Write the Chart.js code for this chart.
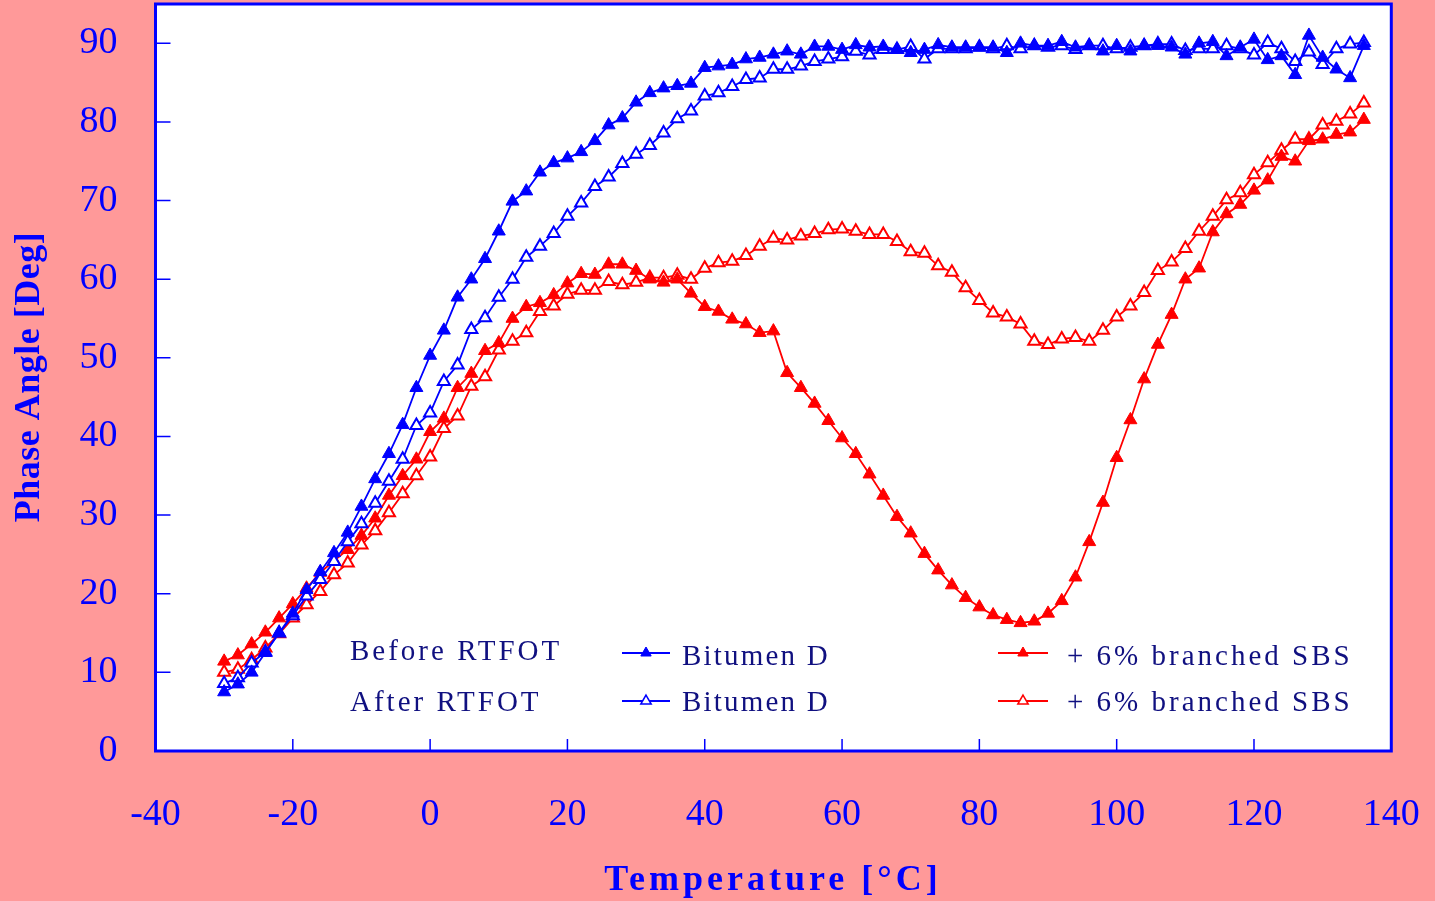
<!DOCTYPE html>
<html>
<head>
<meta charset="utf-8">
<title>Phase Angle vs Temperature</title>
<script src="https://cdn.jsdelivr.net/npm/chart.js@4/dist/chart.umd.min.js"></script>
<style>
  html, body { margin: 0; padding: 0; background: #ff9999; }
  #phaseChart { display: block; }
</style>
</head>
<body>
<canvas id="phaseChart" width="1435" height="901"></canvas>
<script>
// temperatures [°C]
const temps = [
  -30, -28, -26, -24, -22, -20, -18, -16, -14, -12,
  -10, -8, -6, -4, -2, 0, 2, 4, 6, 8,
  10, 12, 14, 16, 18, 20, 22, 24, 26, 28,
  30, 32, 34, 36, 38, 40, 42, 44, 46, 48,
  50, 52, 54, 56, 58, 60, 62, 64, 66, 68,
  70, 72, 74, 76, 78, 80, 82, 84, 86, 88,
  90, 92, 94, 96, 98, 100, 102, 104, 106, 108,
  110, 112, 114, 116, 118, 120, 122, 124, 126, 128,
  130, 132, 134, 136
];

// Bitumen D, before RTFOT
const bitBefore = [
  7.5, 8.5, 10.0, 12.5, 15.0, 17.5, 20.5, 22.8, 25.2, 27.8,
  31.1, 34.6, 37.8, 41.5, 46.2, 50.3, 53.5, 57.7, 60.0, 62.6,
  66.1, 69.9, 71.2, 73.6, 74.8, 75.4, 76.2, 77.6, 79.6, 80.5,
  82.5, 83.7, 84.3, 84.6, 84.9, 86.9, 87.1, 87.3, 88.0, 88.2,
  88.6, 89.0, 88.6, 89.6, 89.6, 89.2, 89.8, 89.5, 89.6, 89.2,
  88.8, 89.2, 89.8, 89.5, 89.5, 89.5, 89.5, 88.8, 90.0, 89.7,
  89.7, 90.2, 89.5, 89.7, 89.0, 89.7, 89.0, 89.7, 89.7, 89.5,
  88.6, 90.0, 90.2, 88.4, 89.5, 90.5, 87.9, 88.4, 86.0, 91.0,
  88.2, 86.7, 85.6, 89.7
];

// Bitumen D, after RTFOT
const bitAfter = [
  8.6, 9.3, 11.2, 12.6, 15.0, 17.2, 19.7, 21.8, 24.1, 26.6,
  28.9, 31.5, 34.3, 37.1, 41.4, 43.0, 47.0, 49.1, 53.6, 55.1,
  57.7, 60.0, 62.8, 64.2, 65.8, 68.0, 69.7, 71.8, 73.0, 74.7,
  75.9, 77.0, 78.6, 80.4, 81.4, 83.3, 83.7, 84.5, 85.4, 85.6,
  86.7, 86.7, 87.1, 87.7, 88.0, 88.3, 89.0, 88.5, 89.2, 89.2,
  89.6, 88.0, 89.3, 89.3, 89.3, 89.5, 89.3, 89.7, 89.3, 89.7,
  89.5, 89.7, 89.2, 89.7, 89.7, 89.3, 89.5, 89.7, 89.9, 89.9,
  89.1, 89.3, 89.3, 89.7, 89.3, 88.5, 90.1, 89.3, 87.7, 88.9,
  87.3, 89.3, 89.9, 90.1
];

// + 6% branched SBS, before RTFOT
const sbsBefore = [
  11.4, 12.2, 13.6, 15.1, 16.9, 18.7, 20.7, 22.7, 24.2, 25.6,
  27.4, 29.6, 32.5, 35.0, 37.1, 40.6, 42.3, 46.2, 48.0, 50.9,
  51.9, 55.0, 56.5, 57.0, 58.0, 59.5, 60.7, 60.6, 61.9, 61.9,
  61.1, 60.0, 59.6, 60.0, 58.2, 56.5, 55.9, 54.9, 54.3, 53.2,
  53.4, 48.1, 46.2, 44.2, 42.0, 39.8, 37.8, 35.2, 32.5, 29.8,
  27.7, 25.1, 23.0, 21.1, 19.5, 18.3, 17.3, 16.7, 16.3, 16.5,
  17.5, 19.1, 22.1, 26.6, 31.6, 37.3, 42.1, 47.3, 51.7, 55.5,
  60.0, 61.4, 66.0, 68.3, 69.5, 71.3, 72.6, 75.6, 75.0, 77.6,
  77.8, 78.4, 78.7, 80.3
];

// + 6% branched SBS, after RTFOT
const sbsAfter = [
  10.0, 10.4, 11.6, 13.1, 14.9, 16.9, 18.6, 20.3, 22.4, 23.9,
  26.2, 28.0, 30.3, 32.7, 35.0, 37.4, 41.0, 42.6, 46.4, 47.6,
  51.0, 52.1, 53.2, 55.9, 56.6, 58.1, 58.6, 58.6, 59.7, 59.3,
  59.6, 60.2, 60.2, 60.5, 60.0, 61.4, 62.1, 62.3, 63.0, 64.2,
  65.2, 65.0, 65.5, 65.8, 66.3, 66.4, 66.1, 65.7, 65.7, 64.8,
  63.5, 63.3, 61.7, 60.9, 58.9, 57.3, 55.7, 55.2, 54.3, 52.1,
  51.7, 52.4, 52.6, 52.1, 53.5, 55.2, 56.6, 58.3, 61.1, 62.2,
  63.9, 66.1, 68.0, 70.1, 71.0, 73.3, 74.8, 76.4, 77.8, 77.8,
  79.6, 80.1, 81.0, 82.4
];

const xTicks = [-40, -20, 0, 20, 40, 60, 80, 100, 120, 140];
const yTicks = [0, 10, 20, 30, 40, 50, 60, 70, 80, 90];

const ink = "#0000ff";
const red = "#ff0000";
const navy = "#101080";
const serif = '"Liberation Serif", "Times New Roman", serif';

function pts(vals) {
  return temps.map((t, i) => ({ x: t, y: vals[i] }));
}

function series(label, vals, color, filled) {
  return {
    label,
    data: pts(vals),
    showLine: true,
    borderColor: color,
    borderWidth: 1.8,
    pointStyle: "triangle",
    pointRadius: filled ? 7.5 : 7,
    pointBackgroundColor: filled ? color : "#ffffff",
    pointBorderColor: color,
    pointBorderWidth: filled ? 1 : 2,
    tension: 0
  };
}

function tri(ctx, x, y, r, color, filled) {
  ctx.beginPath();
  ctx.moveTo(x, y - r);
  ctx.lineTo(x + r * 0.866, y + r / 2);
  ctx.lineTo(x - r * 0.866, y + r / 2);
  ctx.closePath();
  ctx.fillStyle = filled ? color : "#ffffff";
  ctx.fill();
  ctx.strokeStyle = color;
  ctx.lineWidth = filled ? 1 : 1.5;
  ctx.stroke();
}

function legendSample(ctx, x0, x1, y, color, filled) {
  ctx.strokeStyle = color;
  ctx.lineWidth = 1.8;
  ctx.beginPath();
  ctx.moveTo(x0, y);
  ctx.lineTo(x1, y);
  ctx.stroke();
  tri(ctx, (x0 + x1) / 2, y, 6, color, filled);
}

const frame = {
  id: "frame",
  beforeDraw(chart) {
    const { ctx, chartArea: a } = chart;
    ctx.save();
    ctx.fillStyle = "#ff9999";
    ctx.fillRect(0, 0, chart.width, chart.height);
    ctx.fillStyle = "#ffffff";
    ctx.fillRect(a.left, a.top, a.right - a.left, a.bottom - a.top);
    ctx.restore();
  },
  afterDraw(chart) {
    const { ctx, chartArea: a, scales: { x, y } } = chart;
    ctx.save();

    // inward tick marks
    ctx.strokeStyle = ink;
    ctx.lineWidth = 1.5;
    ctx.beginPath();
    xTicks.forEach(v => {
      if (v <= x.min || v >= x.max) return;
      const px = x.getPixelForValue(v);
      ctx.moveTo(px, a.bottom);
      ctx.lineTo(px, a.bottom - 12);
    });
    yTicks.forEach(v => {
      if (v <= y.min) return;
      const py = y.getPixelForValue(v);
      ctx.moveTo(a.left, py);
      ctx.lineTo(a.left + 15, py);
    });
    ctx.stroke();

    // plot frame
    ctx.lineWidth = 3;
    ctx.strokeRect(a.left, a.top, a.right - a.left, a.bottom - a.top);

    // axis titles
    ctx.fillStyle = ink;
    ctx.textBaseline = "alphabetic";
    ctx.textAlign = "center";
    ctx.font = "bold 36px " + serif;
    ctx.letterSpacing = "4px";
    ctx.fillText("Temperature [°C]", 773, 890);

    ctx.save();
    ctx.translate(39, 377);
    ctx.rotate(-Math.PI / 2);
    ctx.letterSpacing = "0.5px";
    ctx.fillText("Phase Angle [Deg]", 0, 0);
    ctx.restore();

    // legend block inside the plot
    ctx.textAlign = "left";
    ctx.fillStyle = navy;
    ctx.font = "29px " + serif;
    ctx.letterSpacing = "3px";
    ctx.fillText("Before RTFOT", 350, 660);
    ctx.fillText("After RTFOT", 350, 711);
    ctx.letterSpacing = "2.2px";
    ctx.fillText("Bitumen D", 682, 665);
    ctx.fillText("Bitumen D", 682, 711);
    ctx.letterSpacing = "3px";
    ctx.fillText("+ 6% branched SBS", 1067, 665);
    ctx.fillText("+ 6% branched SBS", 1067, 711);

    legendSample(ctx, 622, 670, 653, ink, true);
    legendSample(ctx, 622, 670, 701, ink, false);
    legendSample(ctx, 998, 1048, 653, red, true);
    legendSample(ctx, 998, 1048, 701, red, false);

    ctx.restore();
  }
};

const chart = new Chart(document.getElementById("phaseChart"), {
  type: "scatter",
  data: {
    datasets: [
      series("Before RTFOT Bitumen D", bitBefore, ink, true),
      series("After RTFOT Bitumen D", bitAfter, ink, false),
      series("Before RTFOT + 6% branched SBS", sbsBefore, red, true),
      series("After RTFOT + 6% branched SBS", sbsAfter, red, false)
    ]
  },
  options: {
    responsive: false,
    animation: false,
    devicePixelRatio: 1,
    layout: { autoPadding: false, padding: { top: 4, right: 43.7, left: 0, bottom: 0 } },
    plugins: {
      legend: { display: false },
      tooltip: { enabled: false }
    },
    scales: {
      x: {
        type: "linear",
        min: -40,
        max: 140,
        afterBuildTicks: s => { s.ticks = xTicks.map(v => ({ value: v })); },
        afterFit: s => {
          s.height = 150;
          s.paddingLeft = 0; s.paddingRight = 0; s.paddingTop = 0; s.paddingBottom = 0;
        },
        ticks: {
          color: ink,
          font: { family: serif, size: 38 },
          padding: 41,
          maxRotation: 0,
          autoSkip: false
        },
        grid: { display: false, drawTicks: false },
        border: { display: false }
      },
      y: {
        type: "linear",
        min: 0,
        max: 95,
        afterBuildTicks: s => { s.ticks = yTicks.map(v => ({ value: v })); },
        afterFit: s => {
          s.width = 155.5;
          s.paddingLeft = 0; s.paddingRight = 0; s.paddingTop = 0; s.paddingBottom = 0;
        },
        ticks: {
          color: ink,
          font: { family: serif, size: 38 },
          padding: 38,
          autoSkip: false
        },
        grid: { display: false, drawTicks: false },
        border: { display: false }
      }
    }
  },
  plugins: [frame]
});
</script>
</body>
</html>
